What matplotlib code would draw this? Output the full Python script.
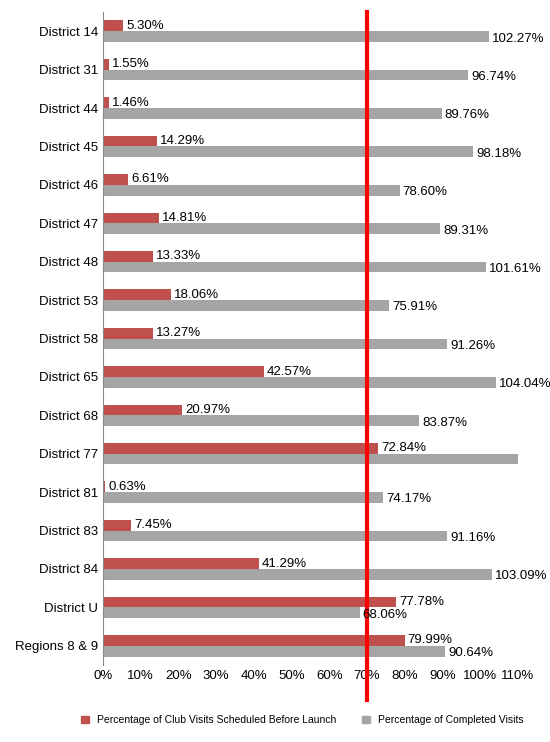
import matplotlib.pyplot as plt
from matplotlib.lines import Line2D
import numpy as np

plt.rcParams['font.family'] = ['Liberation Sans', 'DejaVu Sans']

districts = ["District 14", "District 31", "District 44", "District 45", "District 46",
             "District 47", "District 48", "District 53", "District 58", "District 65",
             "District 68", "District 77", "District 81", "District 83", "District 84",
             "District U", "Regions 8 & 9"]
scheduled = [5.30, 1.55, 1.46, 14.29, 6.61, 14.81, 13.33, 18.06, 13.27, 42.57,
             20.97, 72.84, 0.63, 7.45, 41.29, 77.78, 79.99]
completed = [102.27, 96.74, 89.76, 98.18, 78.60, 89.31, 101.61, 75.91, 91.26, 104.04,
             83.87, 112.50, 74.17, 91.16, 103.09, 68.06, 90.64]
target = 70
xmax = 110

RED = "#C0504D"
GRAY = "#A5A5A5"

fig = plt.figure(figsize=(5.5, 7.42), dpi=100)
ax = fig.add_axes([103 / 550, 1 - 665 / 742, 415 / 550, 653 / 742])

y = np.arange(len(districts))
h = 0.28
ax.barh(y - h / 2, scheduled, height=h, color=RED)
ax.barh(y + h / 2, completed, height=h, color=GRAY)

for yi, s, c in zip(y, scheduled, completed):
    ax.text(s + 0.8, yi - h / 2, f"{s:.2f}%", va="center", ha="left", fontsize=9.5)
    if c < xmax:
        ax.text(c + 0.8, yi + h / 2 + 0.05, f"{c:.2f}%", va="center", ha="left", fontsize=9.5)

ax.set_xlim(0, xmax)
ax.set_ylim(len(districts) - 0.5, -0.5)
ax.set_yticks(y)
ax.set_yticklabels(districts, fontsize=9.5)
ax.set_xticks(range(0, xmax + 1, 10))
ax.set_xticklabels([f"{t}%" for t in range(0, xmax + 1, 10)], fontsize=9.5)
ax.tick_params(length=0)
for side in ["top", "right", "bottom"]:
    ax.spines[side].set_visible(False)
ax.spines["left"].set_color("#888888")

ax.add_line(Line2D([target, target], [-0.5, len(districts) + 0.4], color="#FF0000",
                   lw=3, clip_on=False))

handles = [plt.Rectangle((0, 0), 1, 1, color=RED), plt.Rectangle((0, 0), 1, 1, color=GRAY)]
fig.legend(handles, ["Percentage of Club Visits Scheduled Before Launch",
                     "Percentage of Completed Visits"],
           loc="center", bbox_to_anchor=(0.55, 1 - 720 / 742), ncol=2, frameon=False,
           fontsize=7.5, handlelength=0.7, handleheight=0.7, columnspacing=2.5)

fig.savefig("out.png", dpi=100)
